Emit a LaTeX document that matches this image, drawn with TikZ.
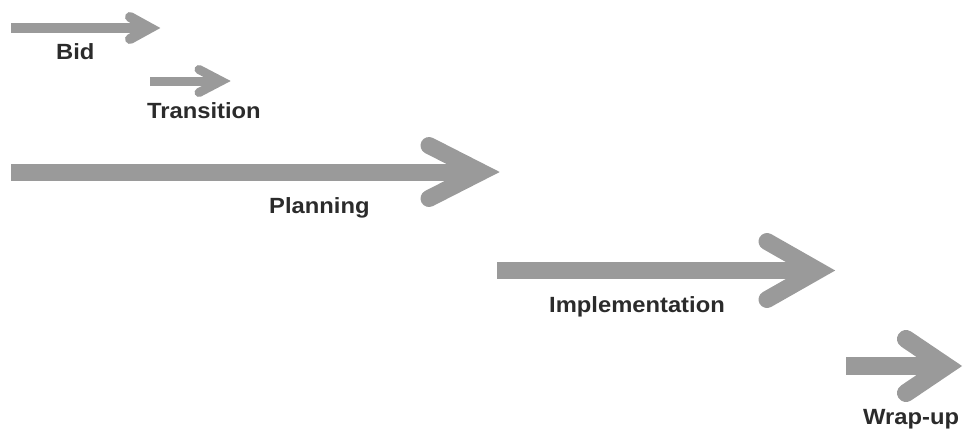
\documentclass[tikz,border=0pt]{standalone}
\usepackage{fontspec}
\newfontfamily\labfont[FakeStretch=1.08]{Liberation Sans}
\definecolor{arrowgray}{HTML}{9A9A9A}
\definecolor{textgray}{HTML}{2B2B2B}
\tikzset{
  shaft/.style={draw=arrowgray, line width=#1, line cap=butt},
  head/.style={draw=arrowgray, line width=#1, line cap=round, line join=miter, miter limit=10},
  lab/.style={anchor=base west, inner sep=0pt, text=textgray, font=\labfont\bfseries\fontsize{22}{24}\selectfont}
}
\begin{document}
\begin{tikzpicture}[x=1pt,y=-1pt]
\useasboundingbox (0,0) rectangle (964,432);
% Bid
\coordinate (bidS) at (11,28);
\coordinate (bidT) at (150,28);
\coordinate (bidU) at (130,17);
\coordinate (bidD) at (130,39);
\draw[shaft=10] (bidS) -- (bidT);
\draw[head=10] (bidU) -- (bidT) -- (bidD);
\node[lab] (bid) at (56,59) {Bid};
% Transition
\coordinate (trS) at (150,81);
\coordinate (trT) at (221,81);
\coordinate (trU) at (199,69.5);
\coordinate (trD) at (199,92.5);
\draw[shaft=9] (trS) -- (trT);
\draw[head=9] (trU) -- (trT) -- (trD);
\node[lab] (tr) at (147,118) {Transition};
% Planning
\coordinate (plS) at (11,172);
\coordinate (plT) at (481,172);
\coordinate (plU) at (429,145.5);
\coordinate (plD) at (429,198.5);
\draw[shaft=17] (plS) -- (plT);
\draw[head=17] (plU) -- (plT) -- (plD);
\node[lab] (pl) at (269,213) {Planning};
% Implementation
\coordinate (imS) at (497,270.5);
\coordinate (imT) at (818,270.5);
\coordinate (imU) at (767,241.5);
\coordinate (imD) at (767,299.5);
\draw[shaft=17] (imS) -- (imT);
\draw[head=17] (imU) -- (imT) -- (imD);
\node[lab] (im) at (549,312) {Implementation};
% Wrap-up
\coordinate (wuS) at (846,366);
\coordinate (wuT) at (946,366);
\coordinate (wuU) at (906,339);
\coordinate (wuD) at (906,393);
\draw[shaft=18] (wuS) -- (wuT);
\draw[head=18] (wuU) -- (wuT) -- (wuD);
\node[lab] (wu) at (863,424) {Wrap-up};
\end{tikzpicture}
\end{document}
